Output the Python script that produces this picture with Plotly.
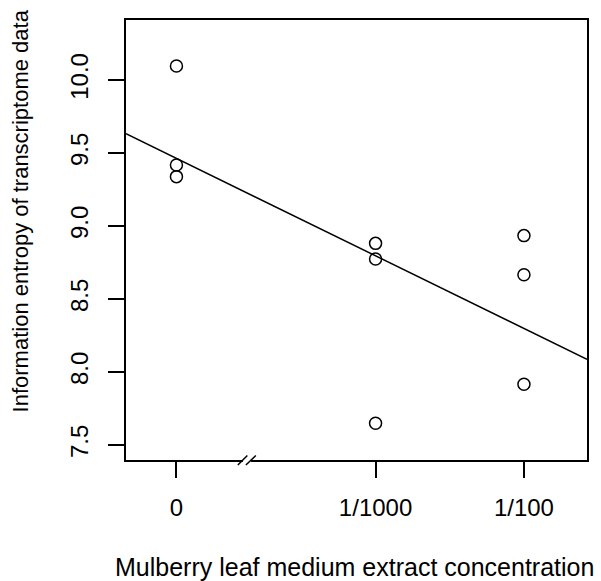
import numpy as np
import plotly.graph_objects as go

# ---- data ----
conc_labels = ["0", "1/1000", "1/100"]
conc_pos = [0.0, 1.342, 2.342]          # axis positions of the concentration groups (broken axis)
group_index = [0, 0, 0, 1, 1, 1, 2, 2, 2]
entropy = [10.096, 9.418, 9.338, 8.881, 8.774, 7.649, 8.934, 8.666, 7.916]
y_ticks = [7.5, 8.0, 8.5, 9.0, 9.5, 10.0]
x_title = "Mulberry leaf medium extract concentration"
y_title = "Information entropy of transcriptome data"

X_RANGE = [-0.340, 2.767]
Y_RANGE = [7.397, 10.411]
BREAK_X = 0.478

xs = [conc_pos[i] for i in group_index]

# least-squares fit (abline(lm(...)))
slope, intercept = np.polyfit(xs, entropy, 1)
fit_x = np.array(X_RANGE)
fit_y = intercept + slope * fit_x

FONT = "Liberation Sans, Arial, Helvetica, sans-serif"

fig = go.Figure()
fig.add_trace(go.Scatter(
    x=fit_x, y=fit_y, mode="lines",
    line=dict(color="black", width=1.5), hoverinfo="skip", showlegend=False,
))
fig.add_trace(go.Scatter(
    x=xs, y=entropy, mode="markers",
    marker=dict(symbol="circle-open", size=12, color="black", line=dict(width=1.5)),
    showlegend=False,
))

axis_common = dict(
    showline=True, mirror=True, linecolor="black", linewidth=1.5,
    ticks="outside", ticklen=16, tickwidth=1.5, tickcolor="black",
    showgrid=False, zeroline=False,
    tickfont=dict(family=FONT, size=24, color="black"),
)

fig.update_xaxes(range=X_RANGE, tickmode="array", tickvals=conc_pos, ticktext=conc_labels,
                 ticklabelstandoff=9, **axis_common)
fig.update_yaxes(range=Y_RANGE, tickmode="array", tickvals=y_ticks,
                 ticktext=[f"{v:.1f}" for v in y_ticks], tickangle=-90,
                 ticklabelstandoff=11, **axis_common)

# axis break marker on the x axis
shapes = [
    dict(type="rect", xref="x", yref="paper", xsizemode="pixel", ysizemode="pixel",
         xanchor=BREAK_X, yanchor=0, x0=-4.5, x1=3.5, y0=-3, y1=3,
         fillcolor="white", line=dict(width=0), layer="above"),
    dict(type="line", xref="x", yref="paper", xsizemode="pixel", ysizemode="pixel",
         xanchor=BREAK_X, yanchor=0, x0=-9.5, y0=-5, x1=0.0, y1=4.5,
         line=dict(color="black", width=1.5), layer="above"),
    dict(type="line", xref="x", yref="paper", xsizemode="pixel", ysizemode="pixel",
         xanchor=BREAK_X, yanchor=0, x0=-1.5, y0=-5, x1=8.5, y1=4.5,
         line=dict(color="black", width=1.5), layer="above"),
]

annotations = [
    dict(text=x_title, xref="paper", yref="paper", x=0.4946, y=-0.243,
         xanchor="center", yanchor="middle", showarrow=False,
         font=dict(family=FONT, size=25, color="black")),
    dict(text=y_title, xref="paper", yref="paper", x=-0.2268, y=0.566,
         xanchor="center", yanchor="middle", textangle=-90, showarrow=False,
         font=dict(family=FONT, size=22, color="black")),
]

fig.update_layout(
    width=601, height=581,
    margin=dict(l=126, r=12, t=20, b=121),
    plot_bgcolor="white", paper_bgcolor="white",
    shapes=shapes, annotations=annotations,
    font=dict(family=FONT, color="black"),
)

fig.write_html("out.html")
